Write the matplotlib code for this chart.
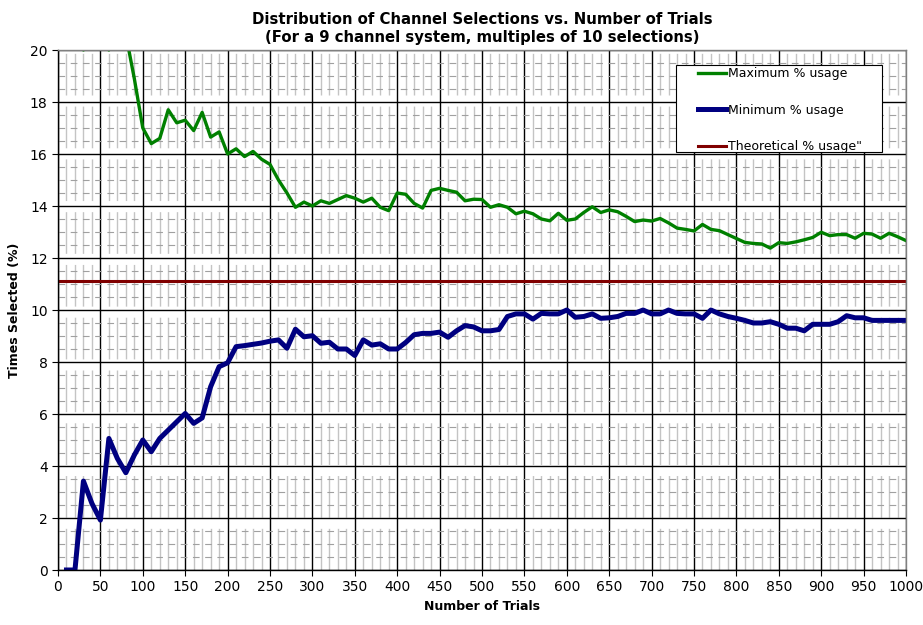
import matplotlib
matplotlib.use("Agg")
import matplotlib.pyplot as plt
from matplotlib.patches import Rectangle
import numpy as np

trials = list(range(10, 1001, 10))

max_usage = [
    30.0, 25.0, 20.0, 22.5, 22.0, 20.0, 21.4, 20.6, 18.9, 17.0,   # 10-100
    16.4, 16.6, 17.7, 17.2, 17.3, 16.9, 17.6, 16.65, 16.85, 16.0,  # 110-200
    16.2, 15.9, 16.1, 15.8, 15.6, 15.0, 14.5, 13.95, 14.15, 14.0,  # 210-300
    14.2, 14.1, 14.25, 14.4, 14.3, 14.15, 14.3, 13.95, 13.82, 14.5,  # 310-400
    14.45, 14.1, 13.92, 14.6, 14.68, 14.6, 14.53, 14.2, 14.26, 14.25,  # 410-500
    13.95, 14.05, 13.95, 13.7, 13.8, 13.7, 13.5, 13.43, 13.72, 13.45,  # 510-600
    13.5, 13.75, 13.97, 13.75, 13.85, 13.78, 13.6, 13.4, 13.46, 13.42,  # 610-700
    13.52, 13.35, 13.15, 13.1, 13.04, 13.29, 13.1, 13.05, 12.9, 12.75,  # 710-800
    12.6, 12.56, 12.54, 12.38, 12.59, 12.56, 12.62, 12.7, 12.79, 12.99,  # 810-900
    12.86, 12.9, 12.9, 12.76, 12.95, 12.92, 12.76, 12.95, 12.82, 12.67,  # 910-1000
]

min_usage = [
    0.0, 0.0, 3.42, 2.56, 1.92, 5.06, 4.29, 3.74, 4.42, 5.0,   # 10-100
    4.55, 5.06, 5.38, 5.7, 6.02, 5.64, 5.85, 7.05, 7.82, 7.97,  # 110-200
    8.59, 8.63, 8.68, 8.73, 8.8, 8.85, 8.53, 9.26, 8.97, 9.01,  # 210-300
    8.72, 8.76, 8.5, 8.5, 8.25, 8.85, 8.65, 8.7, 8.5, 8.5,  # 310-400
    8.75, 9.05, 9.1, 9.1, 9.15, 8.95, 9.2, 9.4, 9.35, 9.2,  # 410-500
    9.2, 9.25, 9.75, 9.85, 9.85, 9.65, 9.87, 9.85, 9.85, 10.0,  # 510-600
    9.72, 9.75, 9.85, 9.68, 9.7, 9.75, 9.87, 9.87, 10.0, 9.85,  # 610-700
    9.85, 10.0, 9.87, 9.85, 9.85, 9.68, 10.0, 9.85, 9.75, 9.68,  # 710-800
    9.6, 9.5, 9.5, 9.55, 9.45, 9.3, 9.3, 9.2, 9.45, 9.45,  # 810-900
    9.45, 9.55, 9.78, 9.7, 9.7, 9.6, 9.6, 9.6, 9.6, 9.6,  # 910-1000
]

theoretical = 100.0 / 9.0

labels = ["Maximum % usage", "Minimum % usage", 'Theoretical % usage"']
title = "Distribution of Channel Selections vs. Number of Trials\n(For a 9 channel system, multiples of 10 selections)"
xlabel = "Number of Trials"
ylabel = "Times Selected (%)"

fig = plt.figure(figsize=(9.23, 6.25), dpi=100)
ax = fig.add_axes([58 / 923, 1 - 570 / 625, 848 / 923, 520 / 625])

ax.set_xlim(0, 1000)
ax.set_ylim(0, 20)
ax.set_xticks(np.arange(0, 1001, 50))
ax.set_yticks(np.arange(0, 21, 2))
ax.set_xticks(np.arange(0, 1001, 10), minor=True)
ax.set_yticks(np.arange(0, 20.01, 0.5), minor=True)

# minor grid
ax.grid(which="minor", axis="x", color="#c4c4c4", linewidth=1.0,
        linestyle=(0, (30, 8)))
ax.grid(which="minor", axis="y", color="#a0a0a0", linewidth=0.8,
        linestyle=(0, (6, 5)))
ax.grid(which="major", axis="both", color="black", linewidth=1.0)
ax.set_axisbelow(True)

l1, = ax.plot(trials, max_usage, color="#008000", linewidth=2.4, label=labels[0])
l2, = ax.plot(trials, min_usage, color="#000080", linewidth=3.6, label=labels[1])
l3 = ax.axhline(theoretical, color="#800000", linewidth=2.2, label=labels[2])

for s in ax.spines.values():
    s.set_color("#808080")
    s.set_linewidth(1.0)
ax.spines["left"].set_color("black")
ax.spines["bottom"].set_color("black")

ax.tick_params(axis="both", which="major", labelsize=10, length=4, color="black")
ax.tick_params(axis="both", which="minor", length=0)

ax.set_title(title, fontsize=10.7, fontweight="bold", pad=6, linespacing=1.2)
ax.set_xlabel(xlabel, fontsize=9, fontweight="bold", labelpad=4)
ax.set_ylabel(ylabel, fontsize=9, fontweight="bold", labelpad=6)

# legend box (frame drawn separately to match the wide left margin)
W, H = 848.0, 520.0
box = Rectangle(((676 - 58) / W, (570 - 152) / H), (882 - 676) / W, (152 - 65) / H,
                transform=ax.transAxes, facecolor="white", edgecolor="black",
                linewidth=0.8, zorder=5)
ax.add_patch(box)
leg = ax.legend(handles=[l1, l2, l3], loc="upper left",
                bbox_to_anchor=((695 - 58) / W, (570 - 64) / H),
                fontsize=9, frameon=False, handlelength=2.2, handletextpad=0.2,
                labelspacing=1.88, borderpad=0.25, borderaxespad=0)
leg.set_zorder(6)

fig.savefig("out.png", dpi=100)
